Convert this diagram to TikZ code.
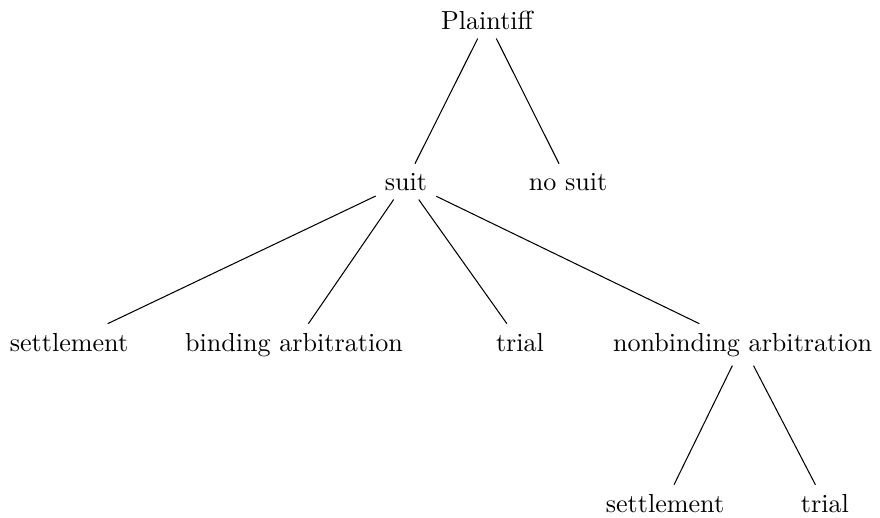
\documentclass[tikz,border=0pt]{standalone}
\begin{document}
\begin{tikzpicture}[every node/.style={anchor=base}]
\useasboundingbox (0,0) rectangle (11.85,6.962);

% Root
\node (plaintiff) at (6.558,6.571) {Plaintiff};
% First choice
\node (suit) at (5.467,4.403) {suit};
\node (nosuit) at (7.649,4.403) {no suit};
% Ways the suit can end
\node (settle) at (0.929,2.235) {settlement};
\node (binding) at (3.959,2.235) {binding arbitration};
\node (trial) at (7.002,2.235) {trial};
\node (nonbinding) at (10.0,2.235) {nonbinding arbitration};
% After nonbinding arbitration
\node (settleb) at (8.955,0.067) {settlement};
\node (trialb) at (11.109,0.067) {trial};

% Edges
\draw (plaintiff) -- (suit);
\draw (plaintiff) -- (nosuit);
\draw (suit) -- (settle);
\draw (suit) -- (binding);
\draw (suit) -- (trial);
\draw (suit) -- (nonbinding);
\draw (nonbinding) -- (settleb);
\draw (nonbinding) -- (trialb);

\end{tikzpicture}
\end{document}
